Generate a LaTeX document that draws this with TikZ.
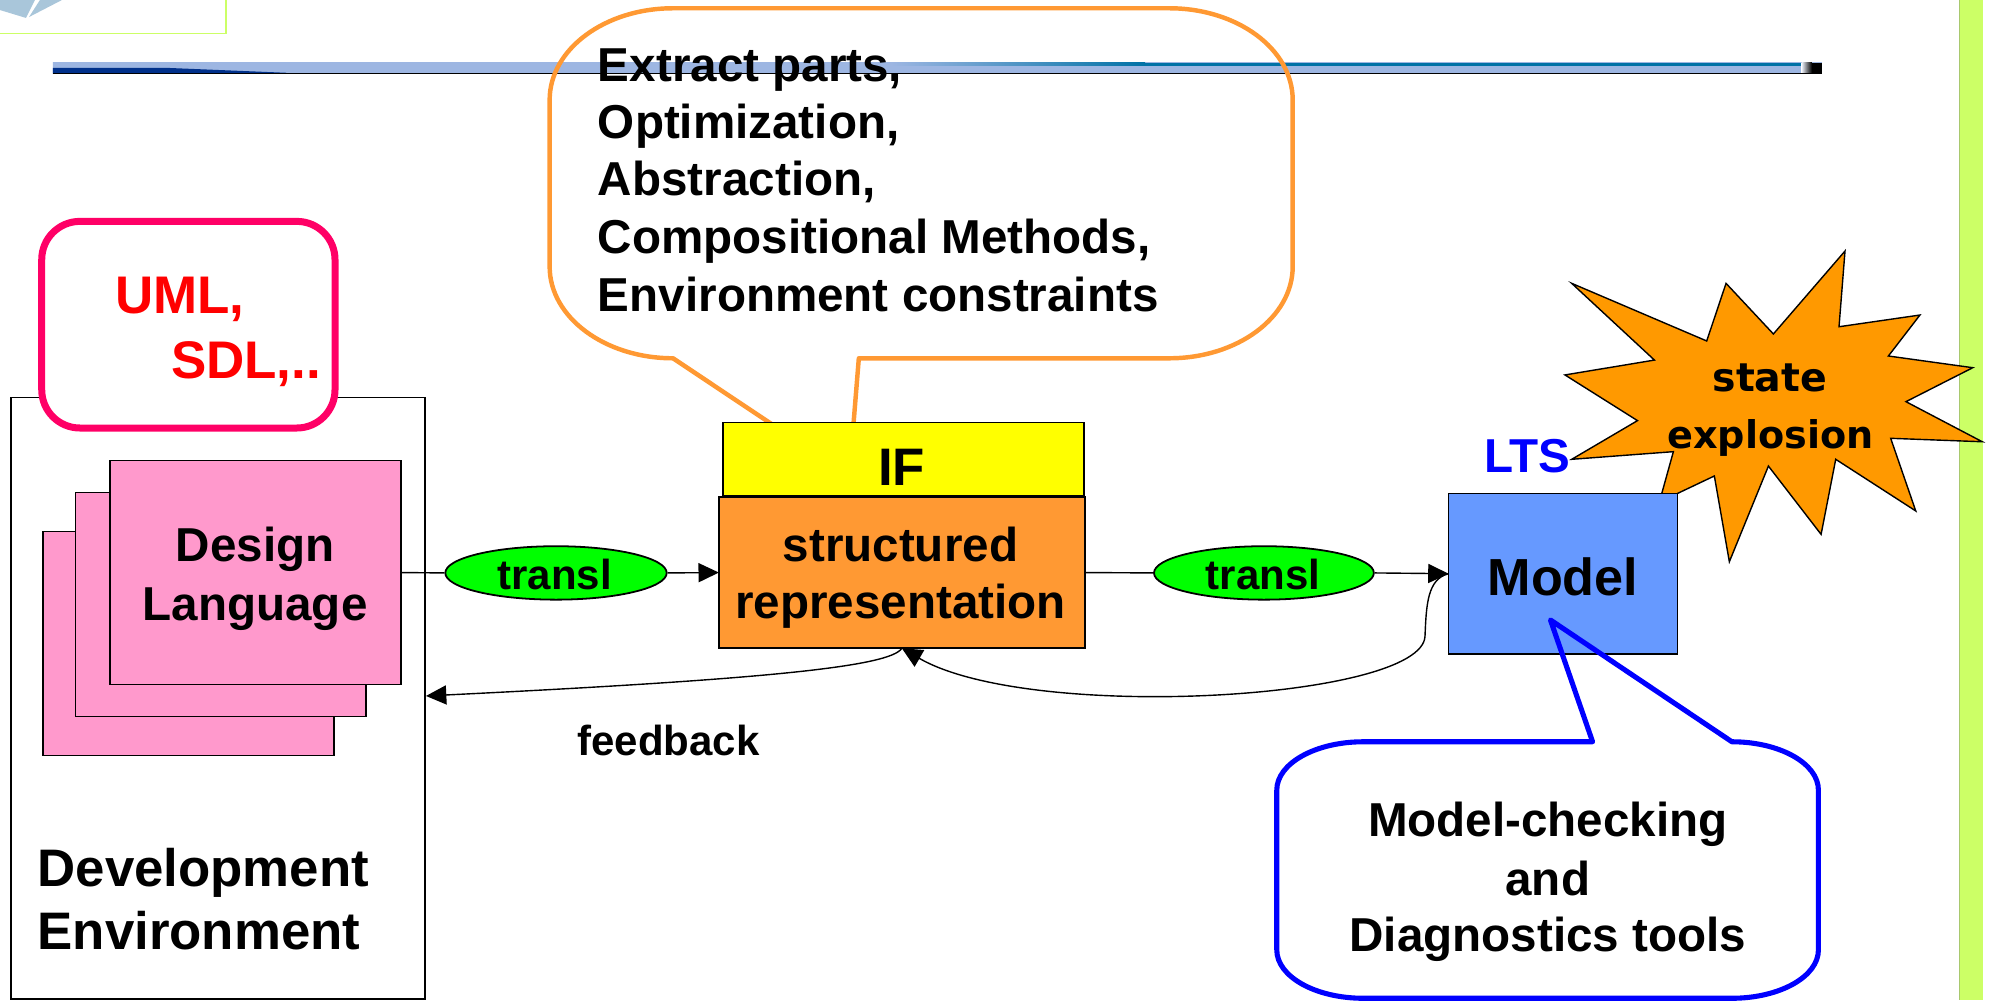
\documentclass[tikz,border=0pt]{standalone}
\usepackage{fontspec}
\setmainfont{Liberation Sans}
\newfontfamily\starfont{DejaVu Sans}
\usetikzlibrary{arrows.meta,shapes.geometric}
\newcommand\fsz[2]{\fontsize{#1}{#2}\selectfont}

\definecolor{limebar}{HTML}{CCFF66}
\definecolor{limeedge}{HTML}{A8C86E}
\definecolor{logoblue}{HTML}{A9C6DA}
\definecolor{rulelight}{HTML}{9DB6E2}
\definecolor{rulepale}{HTML}{EEF2FB}
\definecolor{rulenavy}{HTML}{00308A}
\definecolor{ruleteal}{HTML}{0072A6}
\definecolor{pinkfill}{HTML}{FF99CC}
\definecolor{umledge}{HTML}{FF0066}
\definecolor{umltext}{HTML}{FF0000}
\definecolor{ifyellow}{HTML}{FFFF00}
\definecolor{irorange}{HTML}{FF9933}
\definecolor{transgreen}{HTML}{00FF00}
\definecolor{modelblue}{HTML}{6699FF}
\definecolor{burst}{HTML}{FF9900}
\definecolor{noteblue}{HTML}{0000FF}

\begin{document}
\begin{tikzpicture}[x=1pt,y=-1pt,
  thinbox/.style={draw=black, line width=1.2pt, inner sep=0pt, outer sep=0pt},
  pinkbox/.style={thinbox, fill=pinkfill, minimum width=228.5, minimum height=176},
  oval/.style={ellipse, draw=black, line width=1.4pt, fill=transgreen, inner sep=0pt,
               minimum width=174, minimum height=42},
  lbl/.style={inner sep=0pt, outer sep=0pt, font=\fsz{37.4}{45.5}\bfseries},
  flow/.style={draw=black, line width=1.1pt},
  tip/.style={-{Triangle[length=16pt,width=15pt]}},
  callout/.style={line width=3.5pt, line join=round}
]
\useasboundingbox (0,0) rectangle (1568,786);
\fill[white] (0,0) rectangle (1568,786);

% lime side strip
\fill[limebar] (1540,0) rectangle (1558.5,786);
\draw[limeedge, line width=0.8pt] (1540.4,0) -- (1540.4,786);

% corner logo frame
\fill[logoblue] (0,0) -- (27.5,0) -- (20.4,14.1) -- (0,7.9) -- cycle;
\fill[logoblue] (22.8,13.4) -- (31.4,0) -- (48.7,0) -- cycle;
\draw[limebar, line width=1.4pt] (-2,26.3) -- (177.4,26.3) -- (177.4,-2);

% title rule
\shade[top color=rulelight, middle color=rulepale, bottom color=rulelight]
  (41.6,49.3) rectangle (1432,57.6);
\fill[rulenavy] (41.6,53.3) -- (130,53.3) -- (225,57.2) -- (41.6,57.6) -- cycle;
\shade[left color=rulelight, right color=ruleteal] (700,49.3) rectangle (900,51.5);
\fill[ruleteal] (900,49.3) rectangle (1432,51.5);
\shade[left color=rulepale, right color=black] (1416,49.3) rectangle (1424,57.6);
\fill[black] (1424,49.3) rectangle (1432,57.6);
\draw[black, line width=0.8pt] (41.6,57.4) -- (1432,57.4);

% development environment
\node[thinbox, minimum width=325.4, minimum height=472.7] (dev) at (171.3,548.65) {};
\node[lbl, font=\fsz{41.5}{50}\bfseries, anchor=base west] (dev1) at (29.5,696.4) {Development};
\node[lbl, font=\fsz{41.5}{50}\bfseries, anchor=base west] (dev2) at (29.5,746.4) {Environment};

% stacked design language sheets
\node[pinkbox] (dl3) at (148.15,505.65) {};
\node[pinkbox] (dl2) at (173.45,475) {};
\node[pinkbox] (dl1) at (200.85,450) {};
\node[lbl, anchor=base] (dla) at (200.5,441.3) {Design};
\node[lbl, anchor=base] (dlb) at (200.5,487.7) {Language};

% language tag
\node[draw=umledge, line width=5.5pt, fill=white, rounded corners=30pt,
      minimum width=230.5, minimum height=162.4, inner sep=0pt] (uml) at (148.05,255.2) {};
\node[lbl, font=\fsz{41.6}{50}\bfseries, text=umltext, anchor=base west] (uml1) at (90.5,246.6) {UML,};
\node[lbl, font=\fsz{41.6}{50}\bfseries, text=umltext, anchor=base west] (uml2) at (134.5,297.5) {SDL,..};

% annotation callout above the intermediate format
\draw[irorange, callout]
  (529,6.5) -- (919,6.5)
  arc[start angle=-90, end angle=0, x radius=97, y radius=72]
  -- (1016,209.6)
  arc[start angle=0, end angle=90, x radius=97, y radius=72]
  -- (675,281.6) -- (667.5,374) -- (529,281.6)
  arc[start angle=90, end angle=180, x radius=97, y radius=72]
  -- (432,78.5)
  arc[start angle=180, end angle=270, x radius=97, y radius=72] -- cycle;
\node[lbl, anchor=base west] (ex1) at (470,63.7) {Extract parts,};
\node[lbl, anchor=base west] (ex2) at (470,108.7) {Optimization,};
\node[lbl, anchor=base west] (ex3) at (470,153.3) {Abstraction,};
\node[lbl, anchor=base west] (ex4) at (470,199) {Compositional Methods,};
\node[lbl, anchor=base west] (ex5) at (470,245) {Environment constraints};

% intermediate format
\node[thinbox, line width=1.4pt, fill=ifyellow, minimum width=284, minimum height=58] (ifb) at (710,361) {};
\node[lbl, font=\fsz{41.5}{48}\bfseries, anchor=base] (iflbl) at (708.7,381.5) {IF};
\node[thinbox, line width=1.4pt, fill=irorange, minimum width=287.6, minimum height=119] (st) at (708.8,450) {};
\node[lbl, anchor=base] (st1) at (707.7,441) {structured};
\node[lbl, anchor=base] (st2) at (707.7,486) {representation};

% state explosion burst
\draw[fill=burst, draw=black, line width=1.1pt, line join=miter]
  (1235.3,222.7) -- (1341.4,268) -- (1356.6,222.7) -- (1393.8,262.5)
  -- (1450.1,197.3) -- (1445.4,256.8) -- (1509,247.6) -- (1484.2,279.8)
  -- (1550.5,289) -- (1498,315.7) -- (1558,347.2) -- (1486,344.5)
  -- (1505.7,401.6) -- (1442.8,361) -- (1431.3,420) -- (1389.9,366.3)
  -- (1359.2,441.5) -- (1347.4,374.1) -- (1304.2,394.6) -- (1315.2,355)
  -- (1235.3,361) -- (1287,330.6) -- (1230,294.7) -- (1300.3,283) -- cycle;
\node[inner sep=0pt, font=\fsz{31}{36}\starfont\bfseries, anchor=base] (se1) at (1391,307.8) {state};
\node[inner sep=0pt, font=\fsz{30}{36}\starfont\bfseries, anchor=base] (se2) at (1391.5,352.4) {explosion};

% model
\node[thinbox, fill=modelblue, minimum width=179.9, minimum height=126.2] (mdl) at (1228.45,450.9) {};
\node[lbl, font=\fsz{41}{49}\bfseries, anchor=base] (mdllbl) at (1228.4,467.7) {Model};
\node[lbl, text=noteblue, anchor=base west] (lts) at (1166.5,371.2) {LTS};

% translation steps
\node[oval] (t1) at (437,450.3) {};
\node[lbl, font=\fsz{33}{40}\bfseries, anchor=base] (t1l) at (436,463.7) {transl};
\node[oval, minimum width=172.8] (t2) at (993.4,450.3) {};
\node[lbl, font=\fsz{33}{40}\bfseries, anchor=base] (t2l) at (992.6,463.7) {transl};

\draw[flow] (dl1.east) -- (t1.west);
\draw[flow, tip] (t1.east) -- (st.west);
\draw[flow] (st.east) -- (t2.west);
\draw[flow, tip] (t2.east) -- (mdl.west);

% feedback loops
\coordinate (devfb) at (334.8,547);
\draw[flow, tip] (st.south) .. controls (700,524) and (600,534) .. (devfb);
\draw[flow, tip] (mdl.west) .. controls (1122,455) and (1121,475) .. (1120,500)
  .. controls (1118,550) and (810,568) .. (st.south);
\node[lbl, font=\fsz{33}{40}\bfseries, anchor=base west] (fb) at (454,593.5) {feedback};

% tools callout
\draw[noteblue, callout, line width=4pt]
  (1071.5,583) -- (1251.7,583) -- (1218.6,487.3) -- (1361.2,583)
  arc[start angle=-90, end angle=0, x radius=68, y radius=38]
  -- (1429.2,746.6)
  arc[start angle=0, end angle=90, x radius=68, y radius=38]
  -- (1071.5,784.6)
  arc[start angle=90, end angle=180, x radius=68, y radius=38]
  -- (1003.5,621)
  arc[start angle=180, end angle=270, x radius=68, y radius=38] -- cycle;
\node[lbl, anchor=base] (mc1) at (1216.5,657.6) {Model-checking};
\node[lbl, anchor=base] (mc2) at (1216.5,703.5) {and};
\node[lbl, anchor=base] (mc3) at (1216.5,748) {Diagnostics tools};
\end{tikzpicture}
\end{document}
